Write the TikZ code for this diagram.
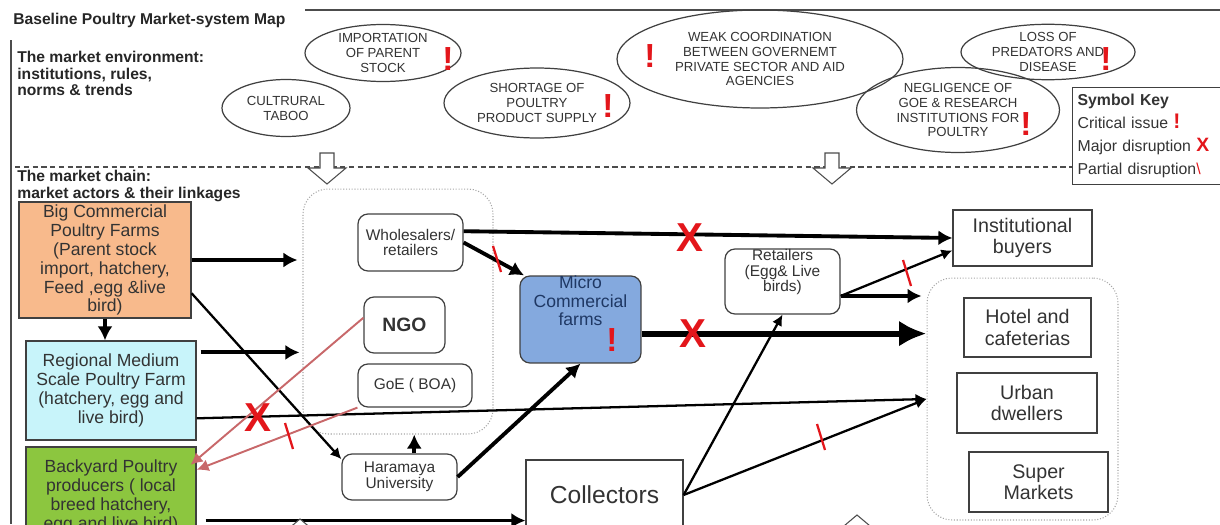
\documentclass[tikz,border=0pt]{standalone}
\usepackage{fontspec}
\setmainfont{Liberation Sans}
\usetikzlibrary{shapes.geometric,arrows.meta,positioning}

\definecolor{bigfill}{HTML}{F8BA8C}
\definecolor{regfill}{HTML}{C8F4FA}
\definecolor{yardfill}{HTML}{8CC63F}
\definecolor{microfill}{HTML}{84A9DE}
\definecolor{microtext}{HTML}{1F3864}
\definecolor{issuered}{HTML}{E3161B}
\definecolor{linkred}{HTML}{C8686A}
\definecolor{inktext}{HTML}{333333}

\begin{document}
\begin{tikzpicture}[
  x=0.02cm, y=-0.02cm,
  heading/.style={inner sep=0pt, text=black!85, font=\bfseries\fontsize{8.9}{9.3}\selectfont},
  actor/.style={rectangle, draw=black!75, line width=0.7pt, align=center, inner sep=1pt, text=inktext, font=\fontsize{10}{10.8}\selectfont},
  stage/.style={actor, rounded corners=0.2cm, font=\fontsize{8.8}{9}\selectfont},
  buyer/.style={actor, font=\fontsize{11.2}{12}\selectfont},
  issue/.style={ellipse, draw=black!75, line width=0.7pt, align=center, inner sep=0pt, text=inktext, font=\fontsize{7.5}{8.5}\selectfont},
  groupbox/.style={rectangle, rounded corners=0.5cm, draw=black!35, densely dotted, line width=0.6pt},
  flow/.style={-{Latex[length=2.8mm,width=3mm]}, line width=2.2pt},
  bigflow/.style={-{Latex[length=5.5mm,width=5.2mm]}, line width=3.4pt},
  link/.style={-{Latex[length=2.2mm,width=2.2mm]}, line width=1.3pt},
  redlink/.style={-{Latex[length=2.4mm,width=2.4mm]}, line width=1.1pt, draw=linkred},
  crit/.style={text=issuered, inner sep=0pt, font=\bfseries\fontsize{19}{19}\selectfont},
  major/.style={text=issuered, inner sep=0pt, font=\bfseries\fontsize{23}{23}\selectfont},
  partial/.style={draw=issuered, line width=1.3pt},
  hollow/.style={draw=black!70, fill=white, line width=0.6pt}
]
\useasboundingbox (0,0) rectangle (1220,524);

% Frame and headings
\draw[line width=0.8pt, black!70] (305,10) -- (1220,10);
\draw[line width=0.8pt, black!70] (11,40) -- (11,524);
\node[heading, anchor=west] (title) at (13,20) {Baseline Poultry Market-system Map};
\node[heading, anchor=north west, align=left] (envlabel) at (17,51) {The market environment:\\institutions, rules,\\norms \& trends};
\node[heading, anchor=north west, align=left] (chainlabel) at (17,170) {The market chain:\\market actors \& their linkages};

% Market environment
\node[issue, minimum width=3.12cm, minimum height=1.14cm] (import) at (383,53) {IMPORTATION\\OF PARENT\\STOCK};
\node[issue, minimum width=2.56cm, minimum height=1.14cm] (taboo) at (286,108) {CULTRURAL\\TABOO};
\node[issue, minimum width=3.72cm, minimum height=1.40cm] (shortage) at (537,103) {SHORTAGE OF\\POULTRY\\PRODUCT SUPPLY};
\node[issue, minimum width=5.72cm, minimum height=1.96cm] (coord) at (760,59) {WEAK COORDINATION\\BETWEEN GOVERNEMT\\PRIVATE SECTOR AND AID\\AGENCIES};
\node[issue, minimum width=3.48cm, minimum height=1.10cm] (loss) at (1048,52) {LOSS OF\\PREDATORS AND\\DISEASE};
\node[issue, minimum width=4.06cm, minimum height=1.70cm] (neglect) at (958,110) {NEGLIGENCE OF\\GOE \& RESEARCH\\INSTITUTIONS FOR\\POULTRY};

% Symbol key
\node[draw=black!75, line width=0.7pt, anchor=north west, align=left, inner xsep=0.1cm, inner ysep=0.1cm,
  text width=2.9cm, minimum height=1.94cm, font=\fontsize{9}{13}\selectfont, text=inktext] (key) at (1072,87)
  {\textbf{Symbol Key}\\Critical issue {\color{issuered}\bfseries\fontsize{12}{12}\selectfont!}\\Major disruption {\color{issuered}\bfseries\fontsize{11}{12}\selectfont X}\\Partial disruption{\color{issuered}\textbackslash}};

\coordinate (divstart) at (15,167);
\draw[black!70, line width=0.6pt, dash pattern=on 3pt off 2pt] (divstart) -- (divstart -| key.west);
\foreach \ax/\ay in {327/153, 832/153}
  \draw[hollow, shift={(\ax,\ay)}] (-7,0) -- (7,0) -- (7,15) -- (19,15) -- (0,31) -- (-19,15) -- (-7,15) -- cycle;

% Market chain
\node[groupbox, minimum width=3.80cm, minimum height=4.90cm] (support) at (398,311.5) {};
\node[groupbox, minimum width=3.82cm, minimum height=4.84cm] (consumers) at (1022.5,399) {};

\node[actor, fill=bigfill, minimum width=3.44cm, minimum height=2.32cm] (big) at (105,260) {Big Commercial\\Poultry Farms\\(Parent stock\\import, hatchery,\\Feed ,egg \&live\\bird)};
\node[actor, fill=regfill, minimum width=3.40cm, minimum height=1.98cm] (regional) at (111,390.5) {Regional Medium\\Scale Poultry Farm\\(hatchery, egg and\\live bird)};
\node[actor, fill=yardfill, minimum width=3.40cm, minimum height=1.96cm] (backyard) at (111,496) {Backyard Poultry\\producers ( local\\breed hatchery,\\egg and live bird)};

\node[stage, minimum width=2.10cm, minimum height=1.14cm] (whole) at (410.5,242.5) {Wholesalers/\\retailers};
\node[stage, minimum width=1.62cm, minimum height=1.12cm, font=\bfseries\fontsize{11}{12}\selectfont] (ngo) at (404.5,325) {NGO};
\node[stage, minimum width=2.28cm, minimum height=0.86cm] (goe) at (415,385.5) {GoE ( BOA)};
\node[stage, minimum width=2.30cm, minimum height=0.92cm] (haramaya) at (399.5,477) {Haramaya\\University};
\node[stage, fill=microfill, inner sep=0pt, text=microtext, font=\fontsize{10}{10.6}\selectfont] (micro) at (580.5,319.5)
  {\parbox[c][1.74cm][t]{2.42cm}{\centering Micro\\Commercial\\farms}};
\node[stage, inner sep=0pt] (retail) at (782.5,281.5)
  {\parbox[c][1.30cm][t]{2.30cm}{\centering Retailers\\(Egg\& Live\\birds)}};
\node[actor, minimum width=3.14cm, minimum height=1.40cm, font=\fontsize{14}{15}\selectfont] (collectors) at (604.5,495) {Collectors};

\node[buyer, minimum width=2.78cm, minimum height=1.12cm] (institutional) at (1022.5,238) {Institutional\\buyers};
\node[buyer, minimum width=2.54cm, minimum height=1.18cm] (hotel) at (1027.5,327.5) {Hotel and\\cafeterias};
\node[buyer, minimum width=2.80cm, minimum height=1.20cm] (urban) at (1027,403) {Urban\\dwellers};
\node[buyer, minimum width=2.78cm, minimum height=1.20cm] (super) at (1038.5,482) {Super\\Markets};

% Linkages
\draw[flow] (big.south) -- (big.south |- regional.north);
\draw[flow, shorten >=0.1cm] (big.east) -- (big.east -| support.west);
\draw[flow, shorten <=0.08cm, shorten >=0.06cm] (regional.24) -- (regional.24 -| support.west);
\draw[link] (big.-21) -- (haramaya.163);
\draw[link] (regional.-18) -- (consumers.west);
\draw[redlink, shorten >=-0.16cm] (ngo.170) -- (backyard.23);
\draw[redlink] (goe.south west) -- (backyard.17);
\draw[flow] (whole.east) -- (micro.142);
\draw[flow] (whole.12) -- (institutional.west);
\draw[bigflow] (micro.-13) -- (micro.-13 -| consumers.west);
\draw[flow] (haramaya.east) -- (micro.south);
\draw[flow] (haramaya.58) -- (haramaya.58 |- support.south);
\draw[link] (collectors.east) -- (retail.south);
\draw[link] (collectors.east) -- (consumers.west);
\draw[link] (retail.-14) -- (institutional.190);
\draw[flow, shorten >=0.1cm] (retail.-14) -- (retail.-14 -| consumers.west);
\draw[flow, shorten <=0.18cm] (backyard.-16) -- (backyard.-16 -| collectors.west);

\foreach \ax/\ay in {300/519, 857/515}
  \draw[hollow, shift={(\ax,\ay)}] (0,0) -- (19,16) -- (7,16) -- (7,40) -- (-7,40) -- (-7,16) -- (-19,16) -- cycle;

% Issue marks
\foreach \cx/\cy [count=\i] in {448/59, 608/106, 650/56, 1106/59, 1026/124, 612/340}
  \node[crit] (crit\i) at (\cx,\cy) {!};
\foreach \mx/\my [count=\i] in {258/418, 690/238, 693/334}
  \node[major] (major\i) at (\mx,\my) {X};
\foreach \px/\py in {497/259, 289/436, 907/273, 821/437}
  \draw[partial] (\px-4,\py-13) -- (\px+4,\py+13);
\end{tikzpicture}
\end{document}
